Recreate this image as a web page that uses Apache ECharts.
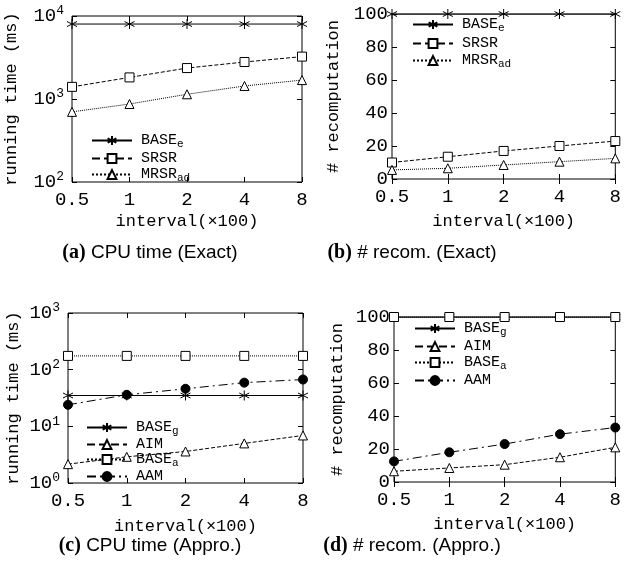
<!DOCTYPE html>
<html><head><meta charset="utf-8">
<script src="https://cdn.jsdelivr.net/npm/echarts@6/dist/echarts.min.js"></script>
<style>html,body{margin:0;padding:0;background:#fff}#c{width:624px;height:581px}</style>
</head><body><div id="c"></div>
<script>
const categories = ['0.5', '1', '2', '4', '8'];
// (a) CPU time (Exact), ms
const aBaseE = [8000, 8000, 8000, 8000, 8000];
const aSRSR = [1400, 1820, 2360, 2790, 3240];
const aMRSR = [700, 870, 1140, 1435, 1690];
// (b) # recomputation (Exact)
const bBaseE = [100, 100, 100, 100, 100];
const bSRSR = [10, 13.5, 17, 20, 23];
const bMRSR = [5.5, 6.5, 8.5, 10.5, 12.5];
// (c) CPU time (Appro.), ms
const cBaseG = [35, 35, 35, 35, 35];
const cAIM = [2.15, 2.9, 3.6, 5.0, 6.9];
const cBaseA = [175, 175, 175, 175, 175];
const cAAM = [24, 36, 46, 59, 67];
// (d) # recomputation (Appro.)
const dBaseG = [100, 100, 100, 100, 100];
const dAIM = [6.5, 8.5, 10.5, 15, 21];
const dBaseA = [100, 100, 100, 100, 100];
const dAAM = [12.5, 18, 23, 29, 33];
const captions = ['(a)|CPU time (Exact)', '(b)|# recom. (Exact)', '(c)|CPU time (Appro.)', '(d)|# recom. (Appro.)'];

const MONO = 'Liberation Mono';
const STAR = 'path://M5,0L5,10M0.67,2.5L9.33,7.5M0.67,7.5L9.33,2.5';
const styles = {
  'BASE_e': {symbol: STAR, type: 'solid', size: 10},
  'SRSR': {symbol: 'rect', type: 'dashed'},
  'MRSR_ad': {symbol: 'triangle', type: 'dotted'},
  'BASE_g': {symbol: STAR, type: 'solid', size: 10},
  'AIM': {symbol: 'triangle', type: 'dashed'},
  'BASE_a': {symbol: 'rect', type: 'dotted'},
  'AAM': {symbol: 'circle', type: [9, 4, 2, 4], fill: '#000'}
};

const grids = [
  {left: 72, top: 16, width: 230, height: 166},
  {left: 392, top: 14, width: 224, height: 165},
  {left: 68, top: 313, width: 235, height: 170},
  {left: 394, top: 317, width: 224, height: 165}
];
const yNames = ['running time (ms)', '# recomputation', 'running time (ms)', '# recomputation'];
const yGaps = [52, 50, 46, 48];
const xGaps = [31, 34, 35, 34];
const logAxis = [[100, 10000], null, [1, 1000], null];
const legendPos = [
  {left: 91, top: 133, itemGap: 1},
  {left: 412, top: 17, itemGap: 2},
  {left: 86, top: 420, itemGap: 0},
  {left: 414, top: 321, itemGap: 1}
];
const panels = [
  [['BASE_e', aBaseE], ['SRSR', aSRSR], ['MRSR_ad', aMRSR]],
  [['BASE_e', bBaseE], ['SRSR', bSRSR], ['MRSR_ad', bMRSR]],
  [['BASE_g', cBaseG], ['AIM', cAIM], ['BASE_a', cBaseA], ['AAM', cAAM]],
  [['BASE_g', dBaseG], ['AIM', dAIM], ['BASE_a', dBaseA], ['AAM', dAAM]]
];

const option = {animation: false, grid: [], xAxis: [], yAxis: [], legend: [], series: [], graphic: []};
const tick = {show: true, inside: true, length: 5, lineStyle: {color: '#000'}};
grids.forEach((g, i) => {
  option.grid.push(Object.assign({show: true, borderColor: '#000', borderWidth: 1, backgroundColor: 'transparent'}, g));
  const xBase = {type: 'category', data: categories, gridIndex: i, boundaryGap: false,
    axisLine: {show: false}, axisTick: Object.assign({alignWithLabel: true}, tick), splitLine: {show: false}};
  option.xAxis.push(Object.assign({}, xBase, {position: 'bottom', name: 'interval(\u00d7100)', nameLocation: 'middle', nameGap: xGaps[i],
    nameTextStyle: {fontFamily: MONO, fontSize: 17, color: '#000'},
    axisLabel: {fontFamily: MONO, fontSize: 19, color: '#000', margin: 8}}));
  option.xAxis.push(Object.assign({}, xBase, {position: 'top', axisLabel: {show: false}}));
  let yBase;
  if (logAxis[i]) {
    yBase = {type: 'log', logBase: 10, min: logAxis[i][0], max: logAxis[i][1]};
  } else {
    yBase = {type: 'value', min: 0, max: 100, interval: 20};
  }
  Object.assign(yBase, {gridIndex: i, axisLine: {show: false}, axisTick: tick, splitLine: {show: false}});
  const lab = logAxis[i] ? {
    fontFamily: MONO, fontSize: 19, color: '#000', margin: 8,
    formatter: v => '{n|10}{p|' + Math.round(Math.log10(v)) + '}',
    rich: {n: {fontFamily: MONO, fontSize: 19, color: '#000'},
      p: {fontFamily: MONO, fontSize: 13, color: '#000', verticalAlign: 'top', padding: [0, 0, 10, 0]}}
  } : {fontFamily: MONO, fontSize: 19, color: '#000', margin: 4};
  option.yAxis.push(Object.assign({}, yBase, {position: 'left', name: yNames[i], nameLocation: 'middle', nameGap: yGaps[i],
    nameTextStyle: {fontFamily: MONO, fontSize: 17, color: '#000'}, axisLabel: lab}));
  option.yAxis.push(Object.assign({}, yBase, {position: 'right', axisLabel: {show: false}}));
  const names = [];
  panels[i].forEach(([name, vals]) => {
    names.push(name);
    const st = styles[name];
    option.series.push({
      type: 'line', name: name, data: vals, xAxisIndex: 2 * i, yAxisIndex: 2 * i,
      symbol: st.symbol, symbolSize: st.size || 9, showAllSymbol: true, silent: true,
      lineStyle: {color: '#000', width: 1, type: st.type},
      itemStyle: {color: st.fill || '#fff', borderColor: '#000', borderWidth: 1},
      emphasis: {disabled: true}
    });
  });
  option.legend.push({
    data: names, orient: 'vertical', left: legendPos[i].left, top: legendPos[i].top, padding: 0,
    itemGap: legendPos[i].itemGap, itemWidth: 40, itemHeight: 11, selectedMode: false,
    formatter: n => {
      const m = n.split('_');
      return '{n|' + m[0] + '}' + (m[1] ? '{s|' + m[1] + '}' : '');
    },
    textStyle: {fontFamily: MONO, fontSize: 15, color: '#000', padding: [0, 0, 0, 4],
      rich: {n: {fontFamily: MONO, fontSize: 15, color: '#000'},
        s: {fontFamily: MONO, fontSize: 11, color: '#000', verticalAlign: 'bottom', padding: [8, 0, 0, 0]}}}
  });
});
const capPos = [[150, 253], [412, 253], [150, 546], [412, 546]];
captions.forEach((c, i) => {
  const [b, t] = c.split('|');
  option.graphic.push({
    type: 'text', x: capPos[i][0], y: capPos[i][1],
    style: {text: '{b|' + b + '}{t| ' + t + '}', align: 'center', verticalAlign: 'middle',
      fill: '#000',
      rich: {b: {fontFamily: 'Liberation Serif', fontWeight: 'bold', fontSize: 20, fill: '#000'},
        t: {fontFamily: 'Liberation Sans', fontSize: 19, fill: '#000'}}}
  });
});
const chart = echarts.init(document.getElementById('c'), null, {renderer: 'canvas'});
chart.setOption(option);
</script></body></html>
